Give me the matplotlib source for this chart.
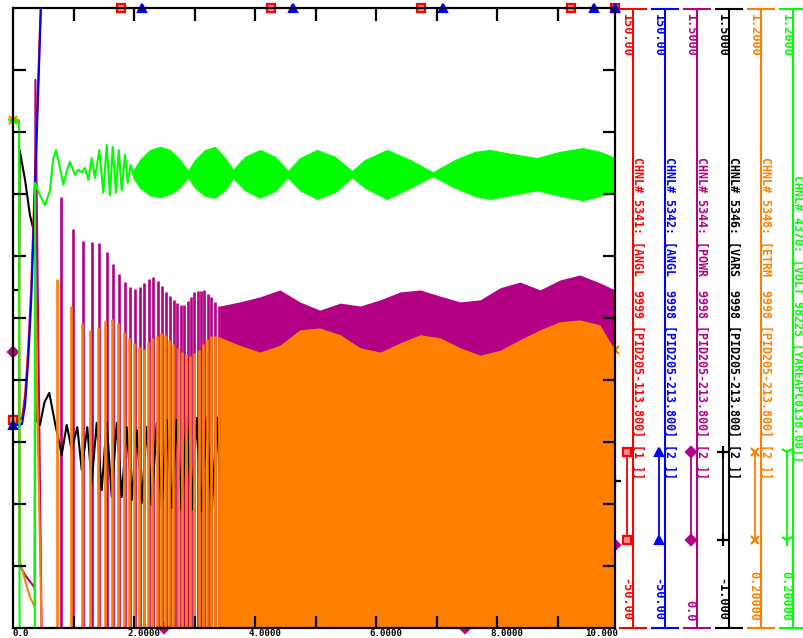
import matplotlib
matplotlib.use('Agg')
import matplotlib.pyplot as plt
from matplotlib.lines import Line2D
import numpy as np

plt.rcParams['font.family'] = 'DejaVu Sans Mono'
plt.rcParams['font.weight'] = 'bold'

T_END = 9.95

# CHNL 5341 / 5342 - machine angles (deg), both slip out of step
ang_t = [0.0, 0.10, 0.15, 0.20, 0.25, 0.30, 0.35, 0.40, 0.45, 0.50, 0.60, 1.00, 10.0]
red_v = [17.1, 17.1, 17.7, 25.2, 39.7, 59.0, 88.0, 117.0, 146.0, 175.0, 230.0, 420.0, 4000.0]
blue_v = [15.5, 15.5, 15.8, 22.0, 36.0, 55.0, 84.0, 113.0, 143.0, 172.0, 228.0, 415.0, 4000.0]
red_mk_t = [0.0, 1.785, 4.264, 6.744, 9.223, 9.95]
blue_mk_t = [0.0, 2.132, 4.628, 7.107, 9.603, 9.95]

# CHNL 5344 - POWR
pwr_t = [0.0, 0.10, 0.11, 0.20, 0.30, 0.36, 0.37, 0.48]
pwr_v = [0.668, 0.668, 0.152, 0.128, 0.109, 0.097, 1.326, -0.10]
pwr_pk_t = [0.788, 0.997, 1.162, 1.306, 1.426, 1.549, 1.658, 1.752, 1.851, 1.934,
            2.017, 2.099, 2.170, 2.243, 2.319, 2.392, 2.468, 2.529, 2.595, 2.656,
            2.716, 2.772, 2.826, 2.888, 2.942, 2.997, 3.053, 3.107, 3.162, 3.218,
            3.273, 3.334, 3.400]
pwr_pk_v = [1.043, 0.965, 0.936, 0.934, 0.931, 0.910, 0.881, 0.856, 0.837, 0.825,
            0.820, 0.825, 0.835, 0.844, 0.849, 0.840, 0.828, 0.813, 0.803, 0.794,
            0.786, 0.781, 0.781, 0.791, 0.801, 0.813, 0.815, 0.815, 0.818, 0.808,
            0.801, 0.789, 0.779]
pwr_env_t = [3.42, 3.75, 4.08, 4.41, 4.74, 5.07, 5.41, 5.74, 6.07, 6.40, 6.73,
             7.06, 7.39, 7.72, 8.05, 8.38, 8.71, 9.04, 9.37, 9.70, 9.95]
pwr_env_v = [0.779, 0.789, 0.801, 0.818, 0.789, 0.769, 0.786, 0.779, 0.794, 0.813, 0.818,
             0.803, 0.789, 0.794, 0.823, 0.837, 0.818, 0.842, 0.854, 0.835, 0.818]
pwr_mk_t = [0.0, 2.496, 7.471, 9.95]
pwr_mk_v = [0.668, -0.10, -0.10, 0.20]

# CHNL 5346 - VARS
var_t = [0.0, 0.10, 0.11, 0.20, 0.28, 0.36, 0.38, 0.446, 0.52, 0.600, 0.694, 0.805,
         0.888, 0.970, 1.063, 1.136, 1.228, 1.301, 1.383, 1.466, 1.549, 1.631,
         1.714, 1.797, 1.879, 1.962, 2.045, 2.127, 2.210, 2.293, 2.375, 2.458,
         2.540, 2.623, 2.706, 2.788, 2.871, 2.954, 3.036, 3.119, 3.202, 3.285,
         3.368, 3.42]
var_v = [0.363, 0.363, 0.927, 0.806, 0.665, 0.585, -0.161, -0.181, -0.09, -0.052, -0.173, -0.302,
         -0.181, -0.282, -0.190, -0.363, -0.190, -0.415, -0.173, -0.444, -0.169, -0.472,
         -0.173, -0.472, -0.190, -0.484, -0.202, -0.496, -0.190, -0.504, -0.173, -0.512,
         -0.161, -0.516, -0.161, -0.524, -0.153, -0.524, -0.153, -0.530, -0.150, -0.535,
         -0.150, -0.40]
var_env_t = [3.42, 9.95]
var_env_hi = [-0.13, -0.13]
var_env_lo = [-0.60, -0.60]
var_mk_t = [9.95]
var_mk_v = [-0.407]

# CHNL 5348 - ETRM
etr_t = [0.0, 0.10, 0.11, 0.20, 0.28, 0.36, 0.37, 0.49]
etr_v = [1.019, 1.019, 0.310, 0.277, 0.250, 0.234, 0.729, 0.10]
etr_pk_t = [0.722, 0.954, 1.136, 1.273, 1.410, 1.521, 1.631, 1.731, 1.830, 1.917,
            2.000, 2.083, 2.160, 2.231, 2.303, 2.375, 2.446, 2.512, 2.579, 2.650,
            2.722, 2.788, 2.855, 2.926, 2.997, 3.069, 3.136, 3.202, 3.273, 3.339,
            3.405]
etr_pk_v = [0.763, 0.719, 0.692, 0.681, 0.685, 0.695, 0.698, 0.692, 0.677, 0.668,
            0.660, 0.653, 0.650, 0.661, 0.668, 0.671, 0.676, 0.673, 0.665, 0.658,
            0.652, 0.645, 0.642, 0.639, 0.644, 0.648, 0.658, 0.666, 0.671, 0.671,
            0.669]
etr_env_t = [3.42, 3.75, 4.08, 4.41, 4.74, 5.07, 5.41, 5.74, 6.07, 6.40, 6.73,
             7.06, 7.39, 7.72, 8.05, 8.38, 8.71, 9.04, 9.37, 9.70, 9.95]
etr_env_v = [0.669, 0.656, 0.645, 0.656, 0.681, 0.684, 0.673, 0.652, 0.645, 0.660, 0.673,
             0.668, 0.652, 0.640, 0.648, 0.665, 0.681, 0.694, 0.697, 0.689, 0.648]
etr_mk_t = [0.0, 9.95]
etr_mk_v = [1.019, 0.648]

# CHNL 4370 - VOLT at bus 98225
vlt_t = [0.0, 0.10, 0.11, 0.36, 0.364, 0.446, 0.529, 0.612, 0.661, 0.711, 0.760, 0.831,
         0.893, 0.942, 1.025, 1.079, 1.136, 1.190, 1.245, 1.301, 1.355, 1.426, 1.493,
         1.549, 1.603, 1.648, 1.702, 1.747, 1.797, 1.851, 1.896, 1.945, 1.983]
vlt_v = [1.016, 1.016, 0.10, 0.10, 0.918, 0.898, 0.882, 0.906, 0.955, 0.971, 0.950, 0.915,
         0.939, 0.952, 0.931, 0.939, 0.935, 0.942, 0.923, 0.958, 0.926, 0.971, 0.902,
         0.979, 0.898, 0.976, 0.902, 0.971, 0.906, 0.963, 0.918, 0.947, 0.932]
vlt_env_t = [1.983, 2.099, 2.264, 2.430, 2.595, 2.760, 2.893, 3.008, 3.174, 3.339, 3.504,
             3.636, 3.835, 4.083, 4.331, 4.545, 4.744, 5.025, 5.322, 5.603, 5.818, 6.182,
             6.562, 6.942, 7.306, 7.636, 7.884, 8.215, 8.661, 9.041, 9.421, 9.702, 9.950]
vlt_env_hi = [0.937, 0.955, 0.971, 0.976, 0.971, 0.955, 0.937, 0.955, 0.971, 0.976, 0.958,
              0.939, 0.960, 0.971, 0.960, 0.937, 0.958, 0.971, 0.960, 0.937, 0.955, 0.971,
              0.955, 0.935, 0.955, 0.968, 0.971, 0.965, 0.958, 0.968, 0.974, 0.968, 0.958]
vlt_env_lo = [0.927, 0.910, 0.898, 0.895, 0.900, 0.911, 0.927, 0.910, 0.897, 0.894, 0.906,
              0.926, 0.906, 0.894, 0.905, 0.927, 0.906, 0.892, 0.903, 0.927, 0.910, 0.892,
              0.910, 0.929, 0.910, 0.897, 0.892, 0.898, 0.906, 0.897, 0.890, 0.897, 0.903]
vlt_mk_t = [0.0]
vlt_mk_v = [1.016]

x_ticks = [1, 2, 3, 4, 5, 6, 7, 8, 9]
x_labels = [(0.0, '0.0'), (2.0, '2.0000'), (4.0, '4.0000'), (6.0, '6.0000'),
            (8.0, '8.0000'), (10.0, '10.000')]

RED, BLUE, PURP, BLK, ORG, GRN = '#ff0000', '#0000ff', '#b30085', '#000000', '#ff8000', '#00ff00'

W, H = 804, 638
fig = plt.figure(figsize=(W / 100, H / 100), dpi=100)


def fx(px):
    return px / W


def fy(py):
    return 1 - py / H


rect = [fx(13), fy(628), (615 - 13) / W, (628 - 8) / H]
ax = fig.add_axes(rect)
ax.set_xlim(0, T_END)
ax.set_axis_off()


def channel(lo, hi):
    a = ax.twinx()
    a.set_ylim(lo, hi)
    a.set_axis_off()
    return a


def markers(a, t, v, lo, hi, color, mk, ms, mfc=None):
    a.plot(t, np.clip(v, lo, hi), ls='none', marker=mk, ms=ms, color=color,
           mfc=color if mfc is None else mfc, mew=1.6, clip_on=False, zorder=5)


LW = 1.5

# POWR
ap = channel(0.0, 1.5)
ap.plot(pwr_t, pwr_v, color=PURP, lw=LW)
ap.vlines(pwr_pk_t, -0.1, pwr_pk_v, color=PURP, lw=1.9)
ap.fill_between(pwr_env_t, -0.1, pwr_env_v, color=PURP, lw=0)
markers(ap, pwr_mk_t, pwr_mk_v, 0.0, 1.5, PURP, 'D', 5)

# VARS
ak = channel(-1.0, 1.5)
ak.plot(var_t, var_v, color=BLK, lw=LW)
ak.fill_between(var_env_t, var_env_lo, var_env_hi, color=BLK, lw=0)
markers(ak, var_mk_t, var_mk_v, -1.0, 1.5, BLK, '+', 8)

# ETRM
ao = channel(0.2, 1.2)
ao.plot(etr_t, etr_v, color=ORG, lw=LW)
ao.vlines(etr_pk_t, 0.1, etr_pk_v, color=ORG, lw=1.9)
ao.fill_between(etr_env_t, 0.1, etr_env_v, color=ORG, lw=0)
markers(ao, etr_mk_t, etr_mk_v, 0.2, 1.2, ORG, 'x', 6)

# angles
ar = channel(-50.0, 150.0)
ar.plot(ang_t, red_v, color=RED, lw=LW)
markers(ar, red_mk_t, np.interp(red_mk_t, ang_t, red_v), -50.0, 150.0, RED, 's', 6, mfc='#ff9090')
ab = channel(-50.0, 150.0)
ab.plot(ang_t, blue_v, color=BLUE, lw=LW)
markers(ab, blue_mk_t, np.interp(blue_mk_t, ang_t, blue_v), -50.0, 150.0, BLUE, '^', 6)

# VOLT
ag = channel(0.2, 1.2)
ag.plot(vlt_t, vlt_v, color=GRN, lw=LW)
ag.fill_between(vlt_env_t, vlt_env_lo, vlt_env_hi, color=GRN, lw=0.8)
markers(ag, vlt_mk_t, vlt_mk_v, 0.2, 1.2, GRN, '1', 9)

# frame with inward ticks
frame = fig.add_axes(rect)
frame.set_xlim(0, T_END)
frame.set_ylim(0, 10)
frame.patch.set_alpha(0)
for s in frame.spines.values():
    s.set_linewidth(1.6)
frame.set_xticks(x_ticks)
frame.set_yticks(range(1, 10))
frame.tick_params(direction='in', length=9, width=1.6, top=True, right=True,
                  labelbottom=False, labelleft=False)
for t, lab in x_labels:
    ha = 'right' if t >= 10 else 'left'
    dx = 0 if t in (0.0, 10.0) else -5
    frame.annotate(lab, xy=(t, 0), xycoords=('data', 'axes fraction'),
                   xytext=(dx, -7.2), textcoords='offset points', ha=ha, va='bottom',
                   fontsize=6.6, fontweight='bold', annotation_clip=False)

# channel scales on the right
scales = [
    (633, RED, '150.00', '-50.00', 'CHNL# 5341: [ANGL  9999 [PID205-113.800] [1 ]]', 's', 6, '#ff9090'),
    (665, BLUE, '150.00', '-50.00', 'CHNL# 5342: [ANGL  9998 [PID205-213.800] [2 ]]', '^', 6, None),
    (697, PURP, '1.5000', '0.0', 'CHNL# 5344: [POWR  9998 [PID205-213.800] [2 ]]', 'D', 5, None),
    (729, BLK, '1.5000', '-1.000', 'CHNL# 5346: [VARS  9998 [PID205-213.800] [2 ]]', '+', 8, None),
    (761, ORG, '1.2000', '0.20000', 'CHNL# 5348: [ETRM  9998 [PID205-213.800] [2 ]]', 'x', 6, None),
    (793, GRN, '1.2000', '0.20000', 'CHNL# 4370: [VOLT 98225 [YAREAPC0138.00]]', '1', 9, None),
]
for xl, col, top, bot, name, mk, ms, mfc in scales:
    fig.add_artist(Line2D([fx(xl)] * 2, [fy(9), fy(628)], color=col, lw=1.5))
    for yy in (9, 628):
        fig.add_artist(Line2D([fx(xl - 13), fx(xl + 13)], [fy(yy)] * 2, color=col, lw=1.5))
    fig.text(fx(xl - 7), fy(14), top, rotation=270, ha='center', va='top',
             color=col, fontsize=8.6, fontweight='bold')
    fig.text(fx(xl - 7), fy(621), bot, rotation=270, ha='center', va='bottom',
             color=col, fontsize=8.6, fontweight='bold')
    fig.text(fx(xl + 5), fy(318), name, rotation=270, ha='center', va='center',
             color=col, fontsize=8.4, fontweight='bold')
    fig.add_artist(Line2D([fx(xl - 5.5)] * 2, [fy(452), fy(540)], color=col, lw=1.3,
                          marker=mk, ms=ms, mew=1.6, mfc=col if mfc is None else mfc))

fig.savefig('out.png', dpi=100)
